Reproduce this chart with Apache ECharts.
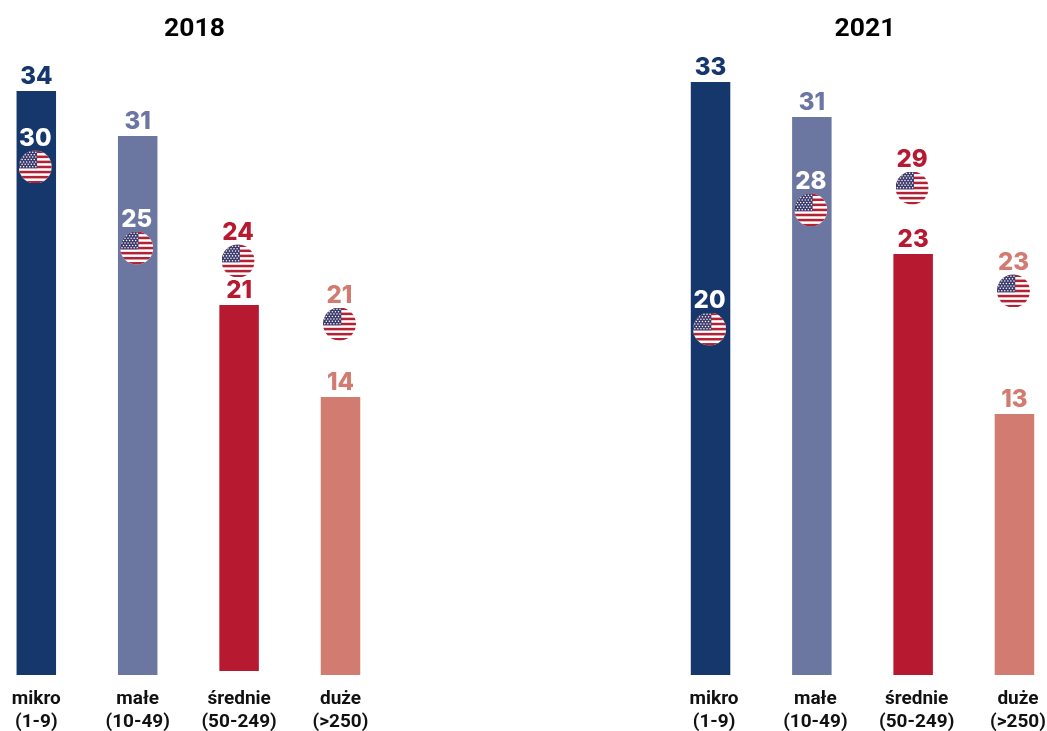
<!DOCTYPE html>
<html><head><meta charset="utf-8">
<style>html,body{margin:0;padding:0;background:#fff}#c{width:1047px;height:731px}</style>
<script src="https://cdn.jsdelivr.net/npm/echarts@6/dist/echarts.min.js"></script>
</head><body><div id="c"></div>
<script>
const categories = ['mikro\n(1-9)', 'małe\n(10-49)', 'średnie\n(50-249)', 'duże\n(>250)'];
const years = ['2018', '2021'];
const colors = ['#15376b', '#6b77a1', '#b71931', '#d27b70'];

// printed values
const barLabels2018 = [34, 31, 21, 14];
const barLabels2021 = [33, 31, 23, 13];
const flagLabels2018 = [30, 25, 24, 21];
const flagLabels2021 = [20, 28, 29, 23];
// drawn heights and flag levels (the infographic is not strictly to scale)
const barHeights2018 = [34, 31.37, 21.3, 16.18];
const barHeights2021 = [33, 31.05, 23.43, 14.52];
const barBase2018 = [0, 0, 0.23, 0];
const barBase2021 = [0, 0, 0, 0];
const flagLevels2018 = [29.57, 24.85, 24.1, 20.43];
const flagLevels2021 = [19.25, 25.88, 27.1, 21.37];

function flagSvg() {
  let stripes = '';
  for (let i = 0; i < 13; i += 2) stripes += `<rect x="0" y="${i * 10}" width="130" height="10" fill="#b22234"/>`;
  let stars = '';
  for (let r = 0; r < 7; r++) for (let c = 0; c < (r % 2 ? 5 : 6); c++)
    stars += `<circle cx="${(r % 2 ? 13 : 7) + c * 12}" cy="${7 + r * 9.5}" r="3" fill="#fff"/>`;
  const svg = `<svg xmlns="http://www.w3.org/2000/svg" width="130" height="130" viewBox="0 0 130 130"><defs><clipPath id="k"><circle cx="65" cy="65" r="65"/></clipPath></defs><g clip-path="url(#k)"><rect width="130" height="130" fill="#fff"/>${stripes}<rect width="72" height="70" fill="#3c3b6e"/>${stars}</g></svg>`;
  return 'image://data:image/svg+xml;base64,' + btoa(svg);
}
const flag = flagSvg();
const FONT = 'Roboto';
const NUM_FONT = 'Inter';
const H = 640;

const grids = [
  { left: -14.4, top: 35, width: 405.6, height: H, outerBoundsMode: 'none' },
  { left: 659.9, top: 35, width: 405.2, height: H, outerBoundsMode: 'none' }
];
const yMax = [H / 17.18, H / 17.97];
const labelPad = [[0, 0, 0, 0], [0, 0, 0, 7]];
const sets = [
  { heights: barHeights2018, base: barBase2018, labels: barLabels2018, flagLv: flagLevels2018, flagLb: flagLabels2018, onBar: [true, true, false, false] },
  { heights: barHeights2021, base: barBase2021, labels: barLabels2021, flagLv: flagLevels2021, flagLb: flagLabels2021, onBar: [true, true, false, false] }
];

const series = [];
sets.forEach((s, i) => {
  series.push({
    type: 'bar', xAxisIndex: i, yAxisIndex: i, stack: 's' + i, barWidth: 39.5, silent: true,
    data: s.base, itemStyle: { color: 'transparent' }
  });
  series.push({
    type: 'bar', xAxisIndex: i, yAxisIndex: i, stack: 's' + i, barWidth: 39.5, silent: true,
    data: s.heights.map((v, k) => ({
      value: v,
      itemStyle: { color: colors[k] },
      label: { show: true, position: 'top', distance: 2, formatter: String(s.labels[k]),
        color: colors[k], fontFamily: NUM_FONT, fontWeight: 800, fontSize: 24 }
    }))
  });
  series.push({
    type: 'scatter', xAxisIndex: i, yAxisIndex: i, symbol: flag, symbolSize: 33, silent: true,
    symbolOffset: [-1, 0], z: 5, itemStyle: { opacity: 1 },
    data: s.flagLv.map((v, k) => ({
      value: [k, v],
      label: { show: true, position: 'top', distance: -0.5, formatter: String(s.flagLb[k]),
        color: s.onBar[k] ? '#ffffff' : colors[k], fontFamily: NUM_FONT, fontWeight: 800, fontSize: 24 }
    }))
  });
});

const chart = echarts.init(document.getElementById('c'), null, { renderer: 'canvas' });
chart.setOption({
  animation: false,
  backgroundColor: '#fff',
  title: [
    { text: years[0], left: 189.5, top: 11, textAlign: 'center', textStyle: { fontFamily: FONT, fontWeight: 'bold', fontSize: 26.5, color: '#000' } },
    { text: years[1], left: 860, top: 11, textAlign: 'center', textStyle: { fontFamily: FONT, fontWeight: 'bold', fontSize: 26.5, color: '#000' } }
  ],
  grid: grids,
  xAxis: grids.map((g, i) => ({
    type: 'category', gridIndex: i, data: categories,
    axisLine: { show: false }, axisTick: { show: false },
    axisLabel: { interval: 0, margin: 13, color: '#111', fontFamily: FONT, fontWeight: 'bold', fontSize: 19, lineHeight: 23, padding: labelPad[i] }
  })),
  yAxis: grids.map((g, i) => ({
    type: 'value', gridIndex: i, min: 0, max: yMax[i], show: false, splitLine: { show: false }
  })),
  series
});
</script></body></html>
